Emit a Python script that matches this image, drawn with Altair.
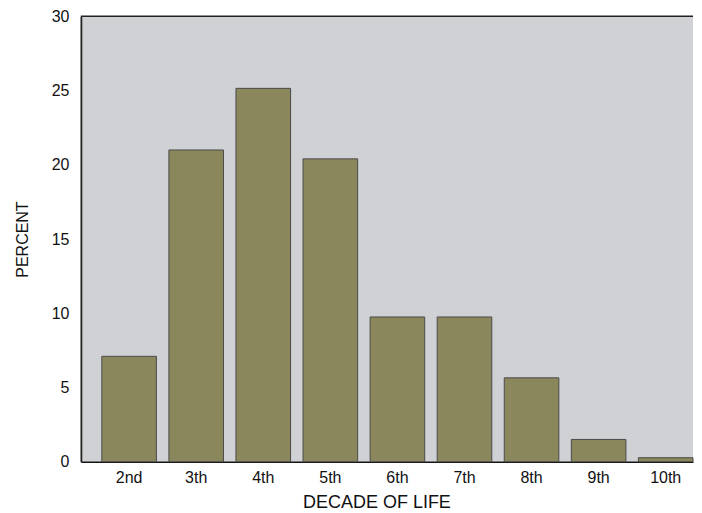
import altair as alt
import pandas as pd

decades = ["2nd", "3th", "4th", "5th", "6th", "7th", "8th", "9th", "10th"]
percent = [7.1, 21.0, 25.15, 20.4, 9.75, 9.75, 5.65, 1.5, 0.27]

df = pd.DataFrame({"decade": decades, "percent": percent})
frame = pd.DataFrame({"top": [30]})

FONT = "Liberation Sans"
W, H = 613, 446

bars = alt.Chart(df).mark_bar(
    color="#8b875d", stroke="#4a4a4a", strokeWidth=1
).encode(
    x=alt.X(
        "decade:N",
        sort=decades,
        title="DECADE OF LIFE",
        scale=alt.Scale(paddingInner=0.186, paddingOuter=0.156, align=1),
        axis=alt.Axis(
            labelAngle=0, ticks=False, labelPadding=8, titlePadding=8,
            titleX=296, labelFontSize=16, titleFontSize=18,
            domainColor="#111", domainWidth=1.5, labelColor="#111",
            titleColor="#111", titleFontWeight="normal", labelFont=FONT,
            titleFont=FONT,
        ),
    ),
    y=alt.Y(
        "percent:Q",
        title="PERCENT",
        scale=alt.Scale(domain=[0, 30], nice=False),
        axis=alt.Axis(
            values=[0, 5, 10, 15, 20, 25, 30], ticks=False, grid=False,
            labelPadding=12, titlePadding=21, labelFontSize=16,
            titleFontSize=16, domainColor="#222", domainWidth=1.8,
            labelColor="#111", titleColor="#111", titleFontWeight="normal",
            labelFont=FONT, titleFont=FONT,
        ),
    ),
)

top_line = alt.Chart(frame).mark_rule(color="#222", strokeWidth=1.5).encode(
    y=alt.Y("top:Q", scale=alt.Scale(domain=[0, 30], nice=False)),
    x=alt.value(0),
    x2=alt.value(W),
)

chart = alt.layer(bars, top_line).properties(
    width=W,
    height=H,
    padding={"left": 6, "top": 0, "right": 0, "bottom": 0},
).configure(
    background="white"
).configure_view(
    fill="#d0d1d4", stroke=None, strokeWidth=0
)

chart.save("out.html", embed_options={"renderer": "svg", "actions": False})
